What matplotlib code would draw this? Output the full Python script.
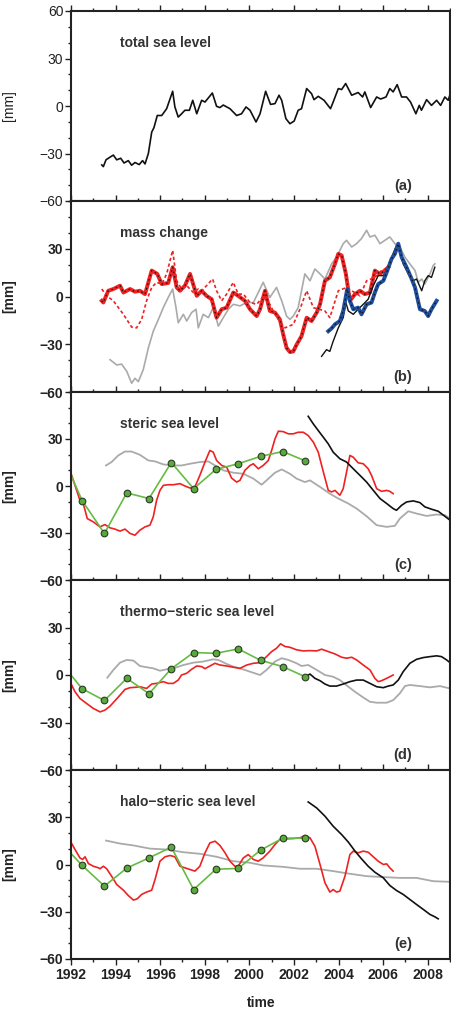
import matplotlib
matplotlib.use('Agg')
import matplotlib.pyplot as plt
from matplotlib.ticker import MultipleLocator, FixedLocator

plt.rcParams['font.family'] = ['Liberation Sans', 'DejaVu Sans']

# ---- (a) total sea level ----
ta_year = [1993.38, 1993.45, 1993.57, 1993.75, 1993.90, 1994.05, 1994.23, 1994.38, 1994.57, 1994.72,
           1994.87, 1995.06, 1995.21, 1995.32, 1995.47, 1995.62, 1995.72, 1995.87, 1996.07, 1996.29,
           1996.56, 1996.66, 1996.81, 1996.96, 1997.11, 1997.31, 1997.46, 1997.64, 1997.86, 1998.01,
           1998.34, 1998.53, 1998.68, 1998.83, 1999.13, 1999.43, 1999.65, 1999.85, 2000.03, 2000.30,
           2000.48, 2000.73, 2000.95, 2001.15, 2001.33, 2001.45, 2001.64, 2001.82, 2002.01, 2002.19,
           2002.34, 2002.57, 2002.79, 2002.90, 2003.09, 2003.35, 2003.64, 2003.76, 2003.99, 2004.14,
           2004.32, 2004.59, 2004.88, 2005.08, 2005.18, 2005.44, 2005.71, 2005.89, 2006.13, 2006.30,
           2006.45, 2006.63, 2006.83, 2007.05, 2007.23, 2007.47, 2007.62, 2007.72, 2007.95, 2008.17,
           2008.40, 2008.58, 2008.77, 2008.92, 2009.00]
ta_mm = [-37.2, -38.3, -34, -32.3, -31, -34, -33, -36, -34.5, -37.4,
         -35.7, -37, -34.5, -36.6, -30, -16.5, -13.7, -6, -6, -1.7,
         9.3, -0.6, -7, -4.9, -2.7, -2.7, 3.6, -4.9, 3.6, 2.5,
         8.2, -0.2, -1, 0.6, -1.7, -6, -4.9, -0.6, -2.7, -10.1,
         -4.9, 9.3, 1, 1.5, 6.8, 3.6, -8, -11.2, -9.5, -2.7,
         -1.7, 11, 7.8, 4, 6.1, 3.6, -1.7, 2.5, 11, 10.4,
         14.2, 6.8, 8.5, 5.7, 8.9, -1, 5.7, 4.4, 5.7, 11,
         8.9, 13.5, 5.7, 5.7, 2.5, -4.9, 0.4, -2.7, 4, 0.4,
         3.6, 0.4, 5.7, 3.6, 7.2]

# ---- (b) mass change ----
b_red_year = [1993.38, 1993.45, 1993.67, 1993.90, 1994.20, 1994.35, 1994.65, 1994.87, 1995.09, 1995.32,
              1995.62, 1995.87, 1996.07, 1996.36, 1996.56, 1996.74, 1996.89, 1997.11, 1997.34, 1997.64,
              1997.86, 1998.08, 1998.31, 1998.53, 1998.76, 1998.98, 1999.28, 1999.50, 1999.80, 2000.03,
              2000.33, 2000.48, 2000.70, 2000.92, 2001.15, 2001.37, 2001.52, 2001.67, 2001.82, 2001.97,
              2002.12, 2002.34, 2002.57, 2002.79, 2003.02, 2003.17, 2003.39, 2003.61, 2003.84, 2003.99,
              2004.14, 2004.33, 2004.51, 2004.74, 2004.96, 2005.18, 2005.41, 2005.63, 2005.86, 2006.08,
              2006.23]
b_red_mm = [-2.7, -3.8, 3.6, 4.7, 6.8, 2.5, 4.7, 3.0, 3.6, 1.5,
            16.3, 14.2, 7.8, 8.5, 18.4, 5.7, 3.6, 6.8, 14.2, 0.4,
            3.6, 0.4, -1.7, -13.3, -8, -7, 2.5, 0.4, -2.7, -8,
            -12.3, -8, 3.6, -9.1, -10.1, -14.4, -23.9, -32.3, -34.9, -34.5,
            -30.2, -24.9, -13.3, -15.4, -10.1, -4.9, 9.9, 12, 20.5, 26.8,
            25.8, 14.2, -2.7, 1.5, 3.6, 1.5, 2.5, 16.3, 14.2, 16.3,
            18.4]

b_dot_year = [1993.38, 1993.60, 1993.90, 1994.35, 1994.72, 1994.94, 1995.17, 1995.39, 1995.62, 1995.84,
              1996.07, 1996.29, 1996.56, 1996.74, 1996.96, 1997.19, 1997.49, 1997.71, 1997.86, 1998.08,
              1998.35, 1998.53, 1998.76, 1998.98, 1999.28, 1999.50, 1999.73, 2000.03, 2000.33, 2000.62,
              2000.92, 2001.07, 2001.37, 2001.60, 2001.97, 2002.27, 2002.57, 2002.87, 2003.39, 2003.61,
              2003.99, 2004.36, 2004.96, 2005.26, 2005.63, 2005.93, 2006.23]
b_dot_mm = [4.7, 0.4, -2.7, -11.2, -19.2, -19.7, -14.4, -2.7, 5.7, 8.9,
            7.8, 14.2, 29, 9.9, 4.7, 6.8, 2.5, 4.7, 3.6, 6.8,
            11, 3.6, -2.7, 1.5, 8.9, 1.5, 1.5, -3.8, -4.9, 0,
            -4.9, -9.1, -16, -19.7, -17.5, -8, 3.6, -7, -9.1, -13.3,
            3.6, 5.7, 0.4, 9.9, 12, 16.3, 18.4]

b_gray_year = [1993.75, 1994.05, 1994.27, 1994.50, 1994.72, 1994.87, 1995.02, 1995.24, 1995.47, 1995.69,
               1995.92, 1996.14, 1996.36, 1996.56, 1996.71, 1996.81, 1997.04, 1997.19, 1997.41, 1997.61,
               1997.71, 1997.93, 1998.16, 1998.38, 1998.61, 1998.83, 1999.06, 1999.28, 1999.58, 1999.88,
               2000.18, 2000.40, 2000.62, 2000.92, 2001.22, 2001.45, 2001.67, 2001.82, 2001.97, 2002.19,
               2002.49, 2002.72, 2002.94, 2003.17, 2003.39, 2003.69, 2003.91, 2004.21, 2004.36, 2004.59,
               2004.81, 2005.03, 2005.26, 2005.41, 2005.63, 2005.86, 2006.08, 2006.30, 2006.53, 2006.75,
               2006.98, 2007.20, 2007.43, 2007.58, 2007.73, 2007.87, 2008.10, 2008.25, 2008.32]
b_gray_mm = [-39.7, -43, -42.5, -47, -54.5, -51.4, -53.5, -46, -32.3, -21.8,
             -14.4, -7, -0.6, 4.7, -7, -16.5, -11.2, -15.4, -10.1, -8,
             -19.7, -11.2, -13.3, -7, -18.6, -13.3, -8, -4.9, -5.9, -3.8,
             -3.8, 2.5, 8.9, -0.6, 5.7, -2.7, -12.3, -14.4, -12.3, -7,
             14.2, 9.9, 17.3, 14.2, 11, 20.5, 24.7, 33.2, 35.3, 31.1,
             33.2, 36.4, 41.6, 37.4, 38.5, 33.2, 35.3, 37.4, 33.2, 31.1,
             24.7, 20.5, 16.3, 8.9, 11, 7.8, 14.2, 19.5, 20.5]

b_blue_year = [2003.54, 2003.69, 2003.84, 2004.06, 2004.21, 2004.39, 2004.51, 2004.66, 2004.88, 2005.03,
               2005.26, 2005.48, 2005.63, 2005.78, 2006.01, 2006.16, 2006.38, 2006.53, 2006.68, 2006.83,
               2007.05, 2007.28, 2007.43, 2007.65, 2007.87, 2008.02, 2008.17, 2008.40]
b_blue_mm = [-21.8, -20, -17.5, -15.4, -9.1, 4.7, -2.7, -8, -7, -11.2,
             -4.9, -3.8, 2.5, 7.8, 9.9, 15.2, 23.7, 26.8, 33.2, 24.7,
             18.4, 11, 5.7, -8, -9.1, -12.3, -8, -2.7]

b_black_year = [2003.24, 2003.46, 2003.61, 2003.76, 2003.99, 2004.21, 2004.33, 2004.44, 2004.66, 2004.88,
                2005.11, 2005.33, 2005.56, 2005.78, 2006.01, 2006.16, 2006.38, 2006.60, 2006.75, 2006.90,
                2007.13, 2007.35, 2007.50, 2007.73, 2007.87, 2008.02, 2008.17, 2008.32]
b_black_mm = [-37.6, -33.4, -34.5, -28.1, -19.7, -13.3, -3.8, -9.1, -11.2, -8,
              -4.9, -1.7, 6.8, 13.1, 13.1, 16.3, 24.7, 32.1, 27.9, 20.5,
              14.2, 9.9, 11, 3.6, 9.9, 13.1, 12, 18.4]

# ---- yearly means (green), shared years ----
green_year = [1991.5, 1992.5, 1993.5, 1994.5, 1995.5, 1996.5, 1997.5, 1998.5, 1999.5, 2000.5, 2001.5, 2002.5]

# ---- (c) steric ----
c_gray_year = [1993.57, 1993.82, 1994.12, 1994.42, 1994.72, 1995.09, 1995.47, 1995.77, 1996.14, 1996.59,
               1996.96, 1997.34, 1997.78, 1998.16, 1998.46, 1998.83, 1999.28, 1999.73, 2000.18, 2000.55,
               2000.77, 2001.15, 2001.45, 2001.82, 2002.12, 2002.49, 2002.72, 2003.17, 2003.61, 2003.99,
               2004.44, 2004.81, 2005.26, 2005.71, 2006.16, 2006.53, 2006.75, 2007.13, 2007.50, 2007.95,
               2008.40, 2008.77, 2009.00]
c_gray_mm = [13.1, 15.3, 19.5, 22, 22, 19.9, 16.3, 15.7, 13.8, 13.1,
             13.1, 14.2, 15.3, 15.7, 13.1, 10, 8.5, 7.8, 4.7, 0.8,
             3.6, 8.5, 10.6, 7.8, 4.7, 2.5, 3.6, -0.6, -4.9, -8,
             -11.2, -14.4, -19.3, -25, -26.1, -25.4, -20.8, -16.1, -17.6, -19.1,
             -18.2, -18.6, -20.8]
c_red_year = [1992.03, 1992.18, 1992.40, 1992.55, 1992.73, 1993.00, 1993.30, 1993.52, 1993.75, 1993.97,
              1994.20, 1994.42, 1994.65, 1994.87, 1995.09, 1995.32, 1995.54, 1995.69, 1995.84, 1995.99,
              1996.14, 1996.36, 1996.59, 1996.89, 1997.11, 1997.34, 1997.56, 1997.78, 1998.01, 1998.23,
              1998.38, 1998.53, 1998.76, 1998.98, 1999.20, 1999.43, 1999.58, 1999.80, 2000.03, 2000.18,
              2000.40, 2000.62, 2000.85, 2001.00, 2001.15, 2001.30, 2001.52, 2001.75, 2001.97, 2002.19,
              2002.42, 2002.64, 2002.87, 2003.09, 2003.32, 2003.54, 2003.69, 2003.84, 2004.06, 2004.21,
              2004.36, 2004.51, 2004.66, 2004.88, 2005.11, 2005.33, 2005.48, 2005.71, 2005.93, 2006.16,
              2006.30, 2006.45]
c_red_mm = [6.8, 0.4, -9.1, -11.2, -20.8, -22.9, -26.1, -24.6, -26.7, -27.5,
            -28.8, -27.5, -30.3, -31.4, -28.2, -26.1, -25, -19.7, -9.1, -2.8,
            0.4, 0.8, 0.8, 1.5, 0, -1.3, -0.6, 6.8, 15.3, 22.7,
            21.6, 16.3, 13.1, 12.1, 5.1, 2.5, 3.6, 10, 13.1, 14.2,
            11, 13.1, 16.3, 22.7, 30.1, 35, 34.7, 33.3, 33.3, 34.3,
            34.3, 32.2, 28, 21.6, 8.9, -2.8, -3.8, -2.8, -5.9, -1.7,
            8.9, 19.5, 18.4, 14.8, 14.2, 11, 6.8, -1.7, -3.4, -2.8,
            -3.4, -4.9]
c_black_year = [2002.64, 2002.87, 2003.09, 2003.32, 2003.54, 2003.76, 2004.06, 2004.36, 2004.66, 2004.96,
                2005.26, 2005.56, 2005.86, 2006.16, 2006.45, 2006.60, 2006.83, 2007.05, 2007.35, 2007.65,
                2007.87, 2008.17, 2008.47, 2008.70, 2009.00]
c_black_mm = [44.5, 39.6, 35.4, 31.1, 26.9, 21.6, 17.4, 15.3, 11, 6.8,
              2.5, -2.8, -8, -11.2, -14.4, -15.5, -12.3, -10.2, -9.5, -10.6,
              -13.3, -14.8, -16.1, -18.6, -21.8]
c_green_mm = [22.9, -9.3, -30.3, -4.4, -8, 15, -1.7, 10.6, 14.2, 18.9, 22, 16.1]

# ---- (d) thermo-steric ----
d_gray_year = [1993.63, 1993.90, 1994.20, 1994.50, 1994.80, 1995.09, 1995.39, 1995.69, 1995.99, 1996.29,
               1996.59, 1997.04, 1997.49, 1997.93, 1998.38, 1998.61, 1998.98, 1999.28, 1999.58, 2000.03,
               2000.48, 2000.77, 2001.15, 2001.45, 2001.75, 2002.12, 2002.34, 2002.64, 2003.02, 2003.39,
               2003.76, 2004.06, 2004.44, 2004.74, 2005.11, 2005.41, 2005.71, 2006.16, 2006.45, 2006.75,
               2006.98, 2007.20, 2007.65, 2008.10, 2008.55, 2009.00]
d_gray_mm = [-1.7, 3.2, 7.8, 9.5, 9.1, 5.7, 4.9, 4.2, 2.7, 3.6,
             4.2, 6.3, 7.8, 8.5, 9.9, 9.5, 7, 5.3, 4.2, 2.1,
             0, 3.2, 8.5, 10.6, 9.5, 7.4, 5.7, 6.3, 3.2, 0,
             -1.1, -3.2, -7.4, -10.6, -14.2, -16.9, -17.5, -17.5, -15.9, -11.6,
             -7, -6.3, -7, -7.8, -7, -8.5]
d_red_year = [1992.03, 1992.18, 1992.40, 1992.70, 1993.00, 1993.30, 1993.52, 1993.75, 1993.97, 1994.20,
              1994.42, 1994.65, 1994.87, 1995.09, 1995.39, 1995.62, 1995.84, 1996.14, 1996.36, 1996.59,
              1996.81, 1996.96, 1997.19, 1997.41, 1997.64, 1997.86, 1998.01, 1998.23, 1998.46, 1998.68,
              1998.98, 1999.28, 1999.58, 1999.88, 2000.18, 2000.48, 2000.77, 2001.00, 2001.22, 2001.40,
              2001.60, 2001.82, 2002.12, 2002.42, 2002.72, 2003.02, 2003.24, 2003.54, 2003.84, 2004.14,
              2004.36, 2004.59, 2004.81, 2005.11, 2005.41, 2005.63, 2005.78, 2005.93, 2006.16, 2006.45]
d_red_mm = [-6.3, -10.6, -14.8, -18, -21.1, -23.3, -22.2, -19.7, -16.3, -12.7,
            -9.1, -8, -7.8, -7.4, -8.5, -5.7, -5.3, -4.2, -5.3, -5.3,
            -3.2, 0, 1.1, 3.6, 5.7, 5.3, 4, 5.7, 7.4, 6.3,
            5.7, 4.9, 4.2, 6.3, 7.4, 7.8, 11.6, 14.8, 16.9, 19.7,
            18, 17.5, 15.9, 15.2, 15.4, 15.2, 16.3, 14.8, 13.3, 11.2,
            10.6, 11.2, 9.5, 6.3, 3.2, -2.1, -4.2, -3.6, -2.1, 0]
d_black_year = [2002.57, 2002.72, 2002.94, 2003.17, 2003.39, 2003.61, 2003.91, 2004.21, 2004.51, 2004.81,
                2005.11, 2005.41, 2005.71, 2006.01, 2006.23, 2006.45, 2006.68, 2006.90, 2007.20, 2007.50,
                2007.80, 2008.10, 2008.40, 2008.62, 2008.85, 2009.00]
d_black_mm = [-0.6, 0.6, -2.1, -3.6, -5.7, -7, -7, -5.7, -4.2, -3.2,
              -3.2, -5.3, -7.4, -8, -7, -6.3, -3.2, 2.1, 7.4, 9.9,
              11, 11.6, 12.1, 11.6, 9.5, 7.8]
d_green_mm = [8.7, -8.7, -16.1, -2.1, -11.8, 4, 14.2, 13.7, 16.5, 9.3, 5.3, -1.1]

# ---- (e) halo-steric ----
e_gray_year = [1993.57, 1994.20, 1994.80, 1995.54, 1996.29, 1997.04, 1997.78, 1998.53, 1999.28, 2000.03,
               2000.62, 2001.52, 2002.27, 2003.02, 2003.76, 2004.51, 2005.26, 2006.01, 2006.75, 2007.50,
               2008.25, 2009.00]
e_gray_mm = [15.2, 13.3, 12.1, 10.1, 9.5, 7.8, 6.8, 4.9, 2.1, 1.1,
             -0.6, -1.5, -2.7, -2.7, -4.2, -5.9, -7.4, -8, -8.5, -8.5,
             -10.6, -11]
e_red_year = [1992.03, 1992.18, 1992.40, 1992.52, 1992.63, 1992.78, 1993.00, 1993.23, 1993.30, 1993.45,
              1993.60, 1993.82, 1994.05, 1994.35, 1994.57, 1994.80, 1994.97, 1995.17, 1995.39, 1995.62,
              1995.77, 1995.99, 1996.22, 1996.44, 1996.66, 1996.89, 1997.11, 1997.34, 1997.56, 1997.78,
              1998.01, 1998.23, 1998.46, 1998.68, 1998.91, 1999.13, 1999.35, 1999.50, 1999.73, 1999.95,
              2000.18, 2000.40, 2000.62, 2000.92, 2001.15, 2001.37, 2001.67, 2001.97, 2002.27, 2002.49,
              2002.72, 2002.94, 2003.17, 2003.39, 2003.61, 2003.76, 2003.91, 2004.06, 2004.29, 2004.51,
              2004.66, 2004.88, 2005.11, 2005.33, 2005.56, 2005.78, 2006.01, 2006.16, 2006.30, 2006.45]
e_red_mm = [13.3, 9.5, 4.2, 3.2, 4.9, 0.6, -1.1, -2.1, -2.7, -1.1,
            -2.7, -7.4, -12.7, -16.3, -19.7, -22.6, -21.8, -19, -17.5, -16.3,
            -9.5, 2.1, 4.9, 5.7, 4.9, -1.1, -2.1, -3.2, -4.2, -1.1,
            7.4, 13.7, 14.8, 12.1, 7.4, 2.1, -1.1, -1.1, 4.2, 6.3,
            3.2, 2.1, 4.2, 8.5, 12.7, 15.9, 16.3, 16.5, 16.9, 18.4,
            16.9, 11.6, 0, -11.6, -17.5, -15.9, -17.5, -16.9, -7.4, 6.3,
            8.5, 7.4, 8.5, 7.8, 4.9, 2.1, 0, 0.4, -2.1, -4.2]
e_black_year = [2002.64, 2003.02, 2003.39, 2003.76, 2004.14, 2004.44, 2004.74, 2005.03, 2005.33, 2005.63,
                2006.01, 2006.30, 2006.60, 2006.90, 2007.20, 2007.50, 2007.80, 2008.10, 2008.32, 2008.47]
e_black_mm = [39.7, 35.9, 30.7, 24.3, 19, 14.2, 8.5, 3.6, -1.1, -4.9,
              -8.5, -13.3, -16.5, -19, -22.2, -25.4, -28.5, -31.7, -33.2, -34.5]
e_green_mm = [14.6, -0.6, -13.7, -2.3, 4.2, 11, -15.9, -3, -2.5, 9.1, 16.7, 16.7]

titles = ['total sea level', 'mass change', 'steric sea level',
          'thermo\u2212steric sea level', 'halo\u2212steric sea level']
tags = ['(a)', '(b)', '(c)', '(d)', '(e)']
x_ticks = [1992, 1994, 1996, 1998, 2000, 2002, 2004, 2006, 2008]

RED = '#ee2222'
GRAY = '#aaaaaa'
GREEN = '#66bb44'
BLUE = '#1f4e9c'
TXT = '#333333'

fig = plt.figure(figsize=(4.52, 10.14), dpi=100)
W, H = 452.0, 1014.0
tops = [11, 201, 392, 580, 770]
bots = [201, 392, 580, 770, 959]
axes = []
for i in range(5):
    ax = fig.add_axes([71 / W, 1 - bots[i] / H, 379 / W, (bots[i] - tops[i]) / H])
    axes.append(ax)

for i, ax in enumerate(axes):
    ax.set_xlim(1992, 2009)
    ax.set_ylim(-60, 60)
    bold = 'normal' if i == 0 else 'bold'
    if i == 0:
        ax.yaxis.set_major_locator(FixedLocator([-60, -30, 0, 30, 60]))
    else:
        ax.yaxis.set_major_locator(FixedLocator([-60, -30, 0, 30]))
    ax.yaxis.set_minor_locator(MultipleLocator(10))
    ax.xaxis.set_major_locator(FixedLocator(x_ticks))
    ax.xaxis.set_minor_locator(MultipleLocator(1))
    last = (i == 4)
    ax.tick_params(axis='x', which='both', direction='out', top=True, bottom=last,
                   labeltop=False, labelbottom=last, width=1.0, colors='#222222')
    ax.tick_params(axis='x', which='major', length=4.5, pad=2, labelsize=10)
    ax.tick_params(axis='x', which='minor', length=2.5)
    ax.tick_params(axis='y', which='both', direction='out', right=False, width=1.0, colors='#222222')
    ax.tick_params(axis='y', which='major', length=4.5, pad=1, labelsize=10)
    ax.tick_params(axis='y', which='minor', length=2.5)
    for lab in ax.get_yticklabels():
        lab.set_fontweight(bold)
    for lab in ax.get_xticklabels():
        lab.set_fontweight('bold')
    for sp in ax.spines.values():
        sp.set_linewidth(1.5)
        sp.set_color('#222222')
    ax.set_ylabel('[mm]', fontsize=10, fontweight=bold, color='#222222')
    ax.yaxis.set_label_coords(-0.145, 0.5)
    ax.text(0.129, 0.83, titles[i], transform=ax.transAxes, fontsize=10, fontweight='bold',
            color=TXT, va='center', ha='left')
    ax.text(0.876, 0.08, tags[i], transform=ax.transAxes, fontsize=10.5, fontweight='bold',
            color=TXT, va='center', ha='center')

# (a)
axes[0].plot(ta_year, ta_mm, color='#111111', lw=1.2)

# (b)
ax = axes[1]
ax.plot(b_gray_year, b_gray_mm, color=GRAY, lw=1.2)
ax.plot(b_dot_year, b_dot_mm, color=RED, lw=1.2, ls=(0, (2, 1.5)))
ax.plot(b_red_year, b_red_mm, color=RED, lw=2.8, solid_joinstyle='round')
ax.plot(b_red_year, b_red_mm, color='#111111', lw=0.9, ls=(0, (1.2, 2.5)))
ax.plot(b_black_year, b_black_mm, color='#111111', lw=1.0)
ax.plot(b_blue_year, b_blue_mm, color=BLUE, lw=2.8, solid_joinstyle='round')
ax.plot(b_blue_year, b_blue_mm, color='#111111', lw=0.9, ls=(0, (1.2, 2.5)))

# (c) (d) (e)
panels = [
    (c_gray_year, c_gray_mm, c_red_year, c_red_mm, c_black_year, c_black_mm, c_green_mm),
    (d_gray_year, d_gray_mm, d_red_year, d_red_mm, d_black_year, d_black_mm, d_green_mm),
    (e_gray_year, e_gray_mm, e_red_year, e_red_mm, e_black_year, e_black_mm, e_green_mm),
]
for ax, (gy, gm, ry, rm, ky, km, grm) in zip(axes[2:], panels):
    ax.plot(gy, gm, color=GRAY, lw=1.3)
    ax.plot(ry, rm, color=RED, lw=1.2)
    ax.plot(ky, km, color='#111111', lw=1.2)
    ax.plot(green_year, grm, color=GREEN, lw=1.2, marker='o', ms=4.8,
            mfc='#5aa83e', mec='#2b3d22', mew=0.8)

fig.text(260.7 / W, 1 - 1003 / H, 'time', ha='center', va='center', fontsize=10,
         fontweight='bold', color='#222222')

fig.savefig('out.png', dpi=100)
